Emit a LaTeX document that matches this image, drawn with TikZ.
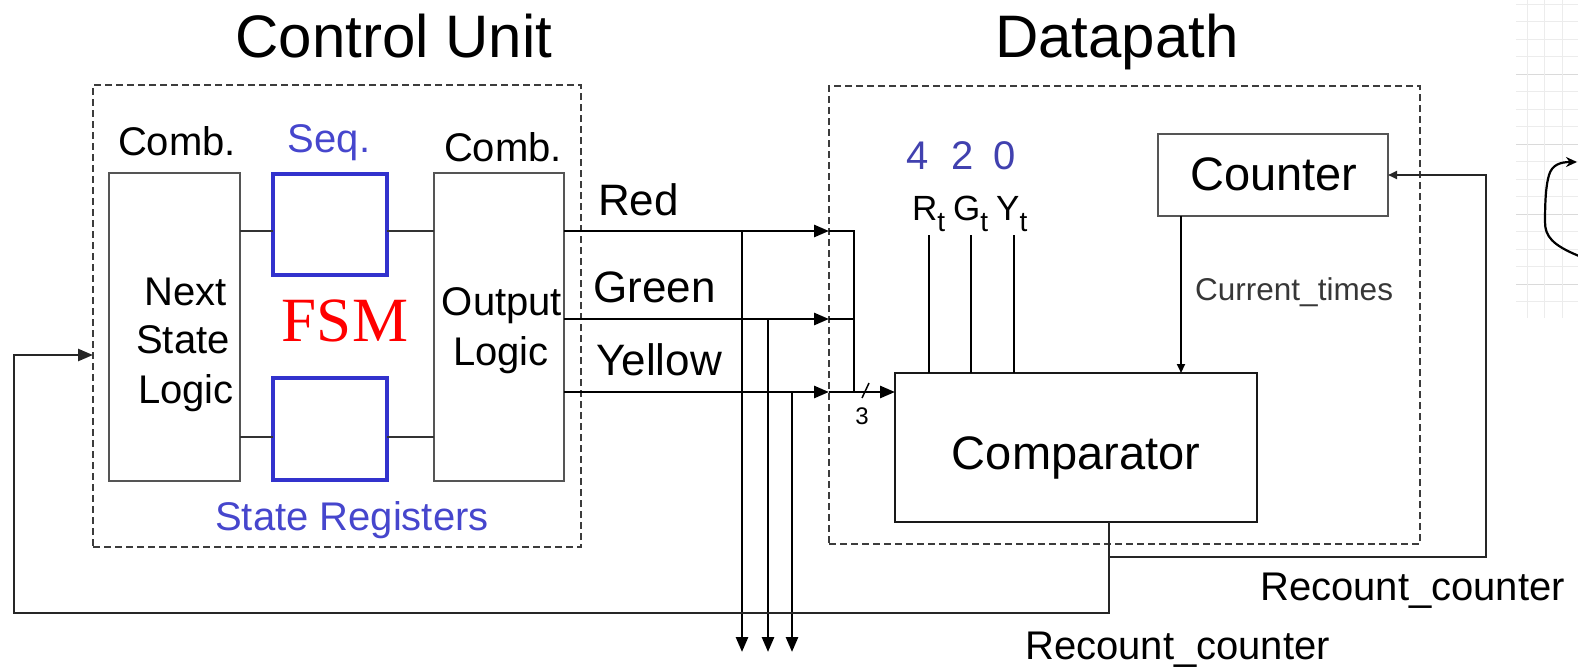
\documentclass[tikz,border=0pt]{standalone}
\usepackage{fontspec}
\setmainfont{Liberation Sans}
\newfontfamily\serifont{Liberation Serif}
\usetikzlibrary{arrows.meta}
\definecolor{regblue}{RGB}{50,50,205}
\definecolor{lblblue}{RGB}{70,70,205}
\definecolor{numblue}{RGB}{65,65,175}
\definecolor{boxgray}{RGB}{85,85,85}
\definecolor{dashgray}{RGB}{60,60,60}
\definecolor{gridgray}{RGB}{236,236,236}
\definecolor{gridmajor}{RGB}{218,218,218}
\definecolor{txtgray}{RGB}{55,55,55}
\newcommand{\fs}[1]{\fontsize{#1}{#1}\selectfont}
\begin{document}
\begin{tikzpicture}[x=1pt,y=-1pt,
  blkbox/.style={draw=boxgray, line width=2pt, inner sep=0pt, outer sep=0pt},
  regbox/.style={draw=regblue, line width=3.8pt, inner sep=0pt, outer sep=0pt, minimum width=114pt, minimum height=101pt},
  dbox/.style={draw=dashgray, line width=1.5pt, dash pattern=on 7pt off 4pt, inner sep=0pt, outer sep=0pt},
  txt/.style={inner sep=0pt, anchor=base, font=\fs{40}},
  sig/.style={draw=black, line width=2.7pt},
  thinln/.style={draw=black, line width=1.8pt},
  fbk/.style={draw=black!85, line width=2.5pt},
  tri/.tip={Triangle[length=15pt,width=12pt]},
  smalltri/.tip={Triangle[length=9pt,width=8pt]}]
\useasboundingbox (0,0) rectangle (1578,669);

% background grid on right edge
\foreach \yy [count=\i] in {4,21.5,39,56.5,74,91.5,109,126.5,144,161.5,179,196.5,214,231.5,249,266.5,284,301.5}
  \draw[gridgray, line width=0.8pt] (1516,\yy) -- (1578,\yy);
\foreach \yy in {74,144,214,284}
  \draw[gridmajor, line width=0.9pt] (1516,\yy) -- (1578,\yy);
\foreach \xx in {1527,1544,1562}
  \draw[gridgray, line width=0.8pt] (\xx,0) -- (\xx,318);

% titles
\node[txt, font=\fs{60}] (tcu) at (394,58) {Control Unit};
\node[txt, font=\fs{60}] (tdp) at (1117,58) {Datapath};

% dashed boxes
\node[dbox, minimum width=488pt, minimum height=462pt] (cu) at (337,316) {};
\node[dbox, minimum width=591pt, minimum height=458pt] (dp) at (1124.5,315) {};

% control unit blocks
\node[blkbox, minimum width=131pt, minimum height=308pt] (nsl) at (174.5,327) {};
\node[regbox] (reg1) at (330,224.5) {};
\node[regbox, minimum height=102pt] (reg2) at (330,429) {};
\node[blkbox, minimum width=130pt, minimum height=308pt] (ol) at (499,327) {};

\node[txt] (comb1) at (177,155) {Comb.};
\node[txt, text=lblblue] (seq) at (329,152) {Seq.};
\node[txt] (comb2) at (503,161) {Comb.};
\node[txt] (nx1) at (186,305) {Next};
\node[txt] (nx2) at (183,353) {State};
\node[txt] (nx3) at (186,403) {Logic};
\node[txt, font=\serifont\fs{63}, text=red] (fsm) at (345,341) {FSM};
\node[txt] (ou1) at (502,315) {Output};
\node[txt] (ou2) at (501,365) {Logic};
\node[txt, text=lblblue] (sreg) at (352,530) {State Registers};

% internal connectors
\coordinate (ra) at (0,231);
\coordinate (rb) at (0,437);
\draw[draw=black!80, line width=1.8pt] (nsl.east |- ra) -- (reg1.west |- ra);
\draw[draw=black!80, line width=1.8pt] (reg1.east |- ra) -- (ol.west |- ra);
\draw[draw=black!80, line width=1.8pt] (nsl.east |- rb) -- (reg2.west |- rb);
\draw[draw=black!80, line width=1.8pt] (reg2.east |- rb) -- (ol.west |- rb);

% signal labels
\node[txt, anchor=base west, font=\fs{44}] (lred) at (598,215) {Red};
\node[txt, anchor=base west, font=\fs{44}] (lgreen) at (593,302) {Green};
\node[txt, anchor=base west, font=\fs{44}] (lyellow) at (596,375) {Yellow};

% datapath blocks
\node[blkbox, draw=black!90, minimum width=362pt, minimum height=149pt] (cmp) at (1076,447.5) {};
\node[txt, font=\fs{47}] (cmpt) at (1076,469) {Comparator};
\node[blkbox, minimum width=230pt, minimum height=82pt] (cnt) at (1273,175) {};
\node[txt, font=\fs{47}] (cntt) at (1274,190) {Counter};

\node[txt, text=numblue] (n4) at (918,169) {4};
\node[txt, text=numblue] (n2) at (963,169) {2};
\node[txt, text=numblue] (n0) at (1005,169) {0};
\node[txt, anchor=base west, font=\fs{35}] (rt) at (912,220) {R\raisebox{-11pt}{\fs{28}t}};
\node[txt, anchor=base west, font=\fs{35}] (gt) at (953,220) {G\raisebox{-11pt}{\fs{28}t}};
\node[txt, anchor=base west, font=\fs{35}] (yt) at (996,220) {Y\raisebox{-11pt}{\fs{28}t}};

\coordinate (xr) at (929,235);
\coordinate (xg) at (971,235);
\coordinate (xy) at (1014,235);
\draw[thinln] (xr) -- (xr |- cmp.north);
\draw[thinln] (xg) -- (xg |- cmp.north);
\draw[thinln] (xy) -- (xy |- cmp.north);

\coordinate (xc) at (1181,0);
\draw[thinln, -smalltri] (cnt.south -| xc) -- (cmp.north -| xc);
\node[txt, anchor=base west, font=\fs{31.5}, text=txtgray] (curt) at (1195,300) {Current\_times};

% signals
\coordinate (yR) at (0,231);
\coordinate (yG) at (0,319);
\coordinate (yY) at (0,392);
\coordinate (xin) at (829,0);
\coordinate (xj) at (854,0);
\draw[sig, -tri] (ol.east |- yR) -- (xin |- yR);
\draw[sig, -tri] (ol.east |- yG) -- (xin |- yG);
\draw[sig, -tri] (ol.east |- yY) -- (xin |- yY);
\draw[thinln] (xin |- yR) -- (xj |- yR) -- (xj |- yY);
\draw[thinln] (xin |- yG) -- (xj |- yG);
\draw[sig, -tri] (xin |- yY) -- (cmp.west |- yY);
\coordinate (sl1) at (862,398);
\coordinate (sl2) at (869,383);
\draw[line width=1.5pt] (sl1) -- (sl2);
\node[txt, font=\fs{24}] (three) at (862,424) {3};

% taps downward
\coordinate (t1) at (742,652);
\coordinate (t2) at (768,652);
\coordinate (t3) at (792,652);
\draw[sig, -tri] (t1 |- yR) -- (t1);
\draw[sig, -tri] (t2 |- yG) -- (t2);
\draw[sig, -tri] (t3 |- yY) -- (t3);

% feedback
\coordinate (fb) at (1109,0);
\coordinate (fb1) at (1109,613);
\coordinate (fb2) at (14,613);
\coordinate (fb3) at (14,355);
\coordinate (fbin) at (0,355);
\draw[fbk, -tri] (cmp.south -| fb) -- (fb1) -- (fb2) -- (fb3) -- (cu.west |- fbin);
\coordinate (br0) at (1109,557);
\coordinate (br1) at (1486,557);
\coordinate (br2) at (1486,175);
\draw[fbk, line width=2pt, -smalltri] (br0) -- (br1) -- (br2) -- (cnt.east);

\node[txt, anchor=base west] (rc1) at (1260,600) {Recount\_counter};
\node[txt, anchor=base west] (rc2) at (1025,659) {Recount\_counter};

% curved arrow on the grid
\coordinate (ca0) at (1579,256);
\coordinate (ca1) at (1545,222);
\coordinate (ca2) at (1549,175);
\coordinate (ca3) at (1577,162);
\draw[line width=2.2pt, -{Stealth[length=11pt,width=10pt]}] (ca0) .. controls (1552,245) and (1545,236) .. (ca1)
  .. controls (1545,200) and (1546,185) .. (ca2) .. controls (1552,165) and (1560,162) .. (ca3);
\end{tikzpicture}
\end{document}
